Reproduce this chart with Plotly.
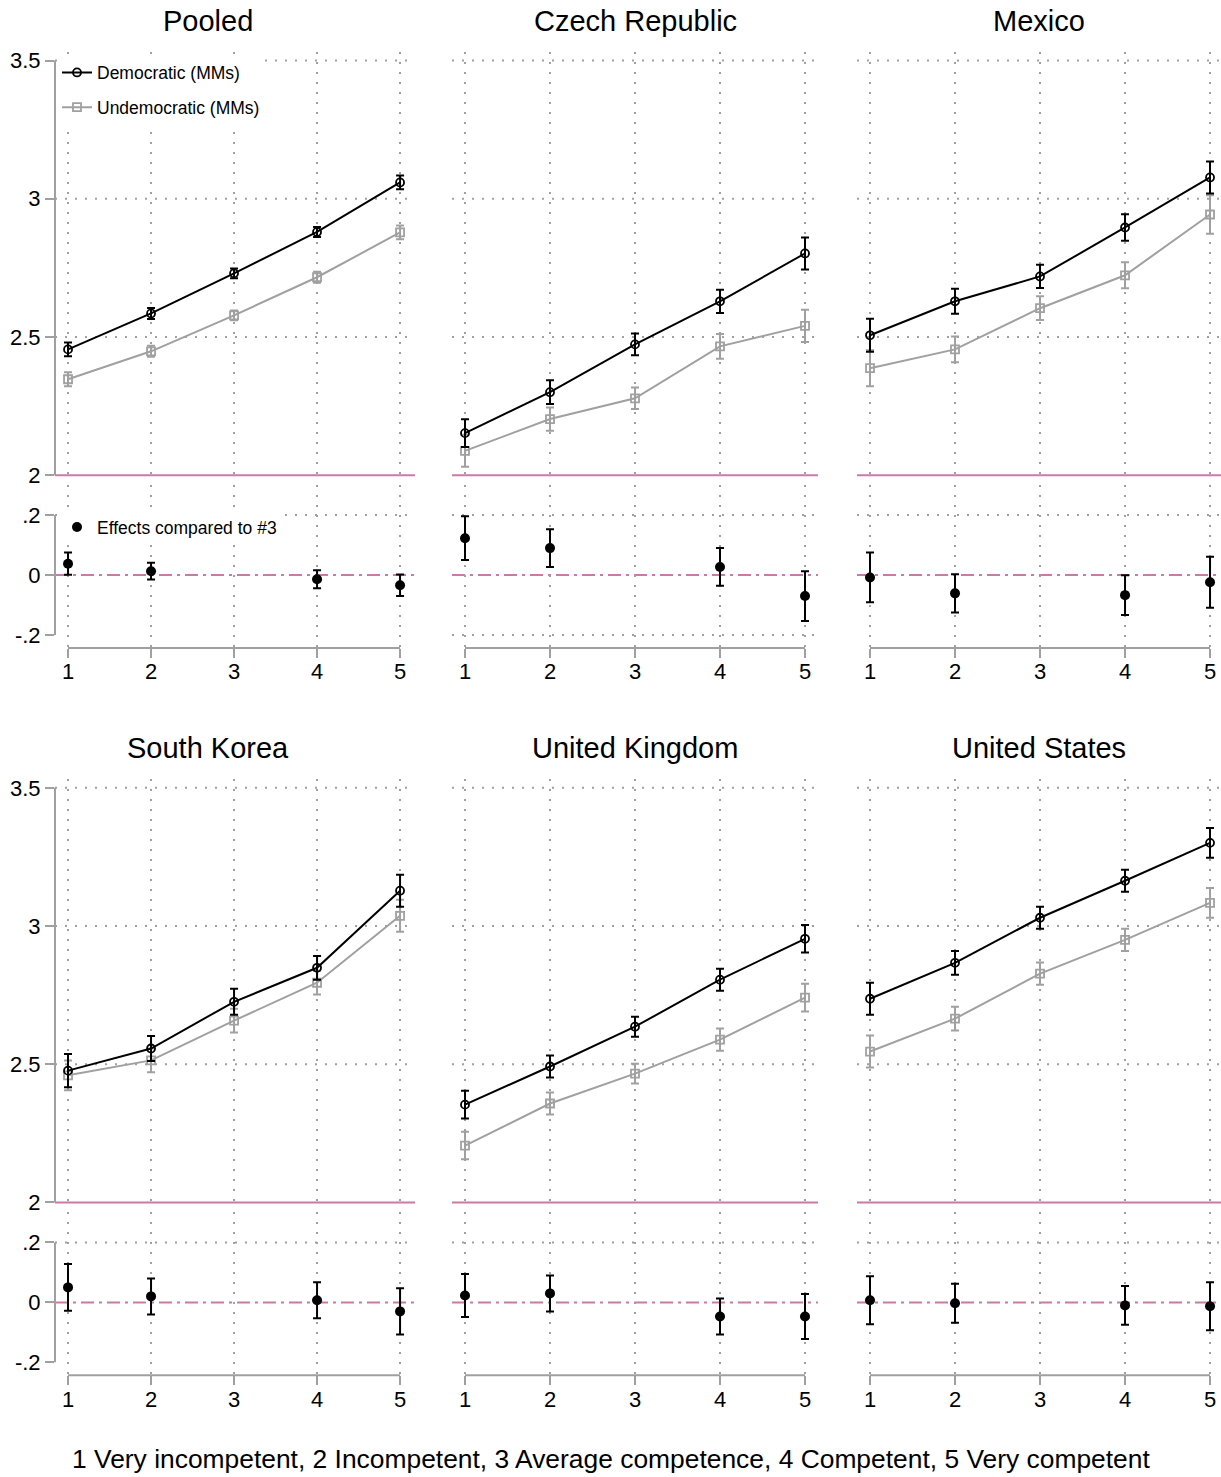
import plotly.graph_objects as go

# ---------------- data ----------------
levels = [1, 2, 3, 4, 5]
effect_levels = [1, 2, 4, 5]
level_labels = ["1", "2", "3", "4", "5"]
panel_titles = ["Pooled", "Czech Republic", "Mexico", "South Korea", "United Kingdom", "United States"]

top_ticks = [2, 2.5, 3, 3.5]
top_tick_text = ["2", "2.5", "3", "3.5"]
bottom_ticks = [-0.2, 0, 0.2]
bottom_tick_text = ["-.2", "0", ".2"]

pooled_dem = [2.455, 2.585, 2.730, 2.880, 3.059]
pooled_dem_err = [0.025, 0.020, 0.018, 0.018, 0.025]
pooled_undem = [2.347, 2.448, 2.578, 2.716, 2.878]
pooled_undem_err = [0.025, 0.020, 0.018, 0.020, 0.025]
pooled_eff = [0.038, 0.013, -0.014, -0.034]
pooled_eff_err = [0.037, 0.028, 0.030, 0.036]

czech_dem = [2.152, 2.300, 2.473, 2.629, 2.802]
czech_dem_err = [0.050, 0.043, 0.039, 0.042, 0.058]
czech_undem = [2.088, 2.203, 2.278, 2.466, 2.540]
czech_undem_err = [0.058, 0.042, 0.039, 0.045, 0.058]
czech_eff = [0.123, 0.090, 0.027, -0.070]
czech_eff_err = [0.073, 0.063, 0.063, 0.083]

mexico_dem = [2.506, 2.629, 2.719, 2.896, 3.077]
mexico_dem_err = [0.060, 0.045, 0.042, 0.048, 0.058]
mexico_undem = [2.387, 2.455, 2.604, 2.723, 2.943]
mexico_undem_err = [0.065, 0.047, 0.043, 0.047, 0.070]
mexico_eff = [-0.008, -0.061, -0.067, -0.024]
mexico_eff_err = [0.083, 0.064, 0.066, 0.085]

korea_dem = [2.477, 2.557, 2.726, 2.849, 3.128]
korea_dem_err = [0.060, 0.045, 0.047, 0.043, 0.058]
korea_undem = [2.460, 2.514, 2.658, 2.795, 3.037]
korea_undem_err = [0.054, 0.043, 0.043, 0.043, 0.058]
korea_eff = [0.050, 0.020, 0.007, -0.030]
korea_eff_err = [0.078, 0.060, 0.060, 0.077]

uk_dem = [2.354, 2.492, 2.636, 2.806, 2.954]
uk_dem_err = [0.050, 0.040, 0.036, 0.040, 0.050]
uk_undem = [2.206, 2.358, 2.466, 2.589, 2.741]
uk_undem_err = [0.050, 0.040, 0.036, 0.040, 0.050]
uk_eff = [0.023, 0.030, -0.047, -0.047]
uk_eff_err = [0.072, 0.060, 0.060, 0.075]

us_dem = [2.737, 2.867, 3.030, 3.164, 3.301]
us_dem_err = [0.058, 0.043, 0.040, 0.040, 0.054]
us_undem = [2.546, 2.665, 2.828, 2.950, 3.084]
us_undem_err = [0.058, 0.043, 0.040, 0.040, 0.054]
us_eff = [0.007, -0.003, -0.010, -0.013]
us_eff_err = [0.080, 0.065, 0.065, 0.080]

panels = [
    (pooled_dem, pooled_dem_err, pooled_undem, pooled_undem_err, pooled_eff, pooled_eff_err),
    (czech_dem, czech_dem_err, czech_undem, czech_undem_err, czech_eff, czech_eff_err),
    (mexico_dem, mexico_dem_err, mexico_undem, mexico_undem_err, mexico_eff, mexico_eff_err),
    (korea_dem, korea_dem_err, korea_undem, korea_undem_err, korea_eff, korea_eff_err),
    (uk_dem, uk_dem_err, uk_undem, uk_undem_err, uk_eff, uk_eff_err),
    (us_dem, us_dem_err, us_undem, us_undem_err, us_eff, us_eff_err),
]
# horizontal dotted grid values per panel
top_grid = [2.5, 3, 3.5]
bottom_grid = [[0.2], [0.2, -0.2], [0.2], [0.2], [0.2], [0.2]]

# ---------------- style / layout ----------------
W, H = 1221, 1477
FONT = "Liberation Sans, Arial, Helvetica, sans-serif"
BLACK = "#000000"
GREY = "#a0a0a0"
AXIS = "#a0a0a0"
PINK = "#cc79a7"
GRID_DASH = "2px,8px"

col_px = [(55, 415), (452, 818), (857, 1221)]
col_range = [(0.843, 5.18), (0.847, 5.153), (0.847, 5.129)]
row_off = [0, 728]
top_range = [1.9855, 3.5325]
bot_range = [-0.2433, 0.3]

fig = go.Figure()
shapes = []
annotations = []
layout_axes = {}


def py(p):
    # vertical pixel (from top) -> paper fraction, with a small correction for page rendering
    q = (p - 2.4) / 0.9928
    return 1 - q / H


def suffix(n):
    return "" if n == 1 else str(n)


for i, (dem, dem_err, und, und_err, eff, eff_err) in enumerate(panels):
    r, c = divmod(i, 3)
    off = row_off[r]
    xd = [col_px[c][0] / W, col_px[c][1] / W]
    ta = 2 * i + 1
    ba = 2 * i + 2
    tx, ty = "x" + suffix(ta), "y" + suffix(ta)
    bx, by = "x" + suffix(ba), "y" + suffix(ba)
    left = (c == 0)

    common_x = dict(domain=xd, range=list(col_range[c]), tickvals=levels, ticktext=level_labels,
                    showgrid=True, gridcolor=GREY, griddash=GRID_DASH, gridwidth=2,
                    zeroline=False, showline=False, fixedrange=True)
    layout_axes["xaxis" + suffix(ta)] = dict(common_x, anchor=ty, showticklabels=False, ticks="")
    layout_axes["xaxis" + suffix(ba)] = dict(common_x, anchor=by, showticklabels=True, ticks="outside",
                                             ticklen=9, tickwidth=2, tickcolor=AXIS, ticklabelstandoff=-5,
                                             tickfont=dict(size=22, color="#000", family=FONT))
    layout_axes["yaxis" + suffix(ta)] = dict(domain=[py(479 + off), py(51 + off)], range=top_range, anchor=tx,
                                             showgrid=False, zeroline=False, showline=False,
                                             tickvals=top_ticks, ticktext=top_tick_text,
                                             showticklabels=left, ticks="outside" if left else "",
                                             ticklen=9, tickwidth=2, tickcolor=AXIS,
                                             tickfont=dict(size=22, color="#000", family=FONT))
    layout_axes["yaxis" + suffix(ba)] = dict(domain=[py(648 + off), py(485 + off)], range=bot_range, anchor=bx,
                                             showgrid=False, zeroline=False, showline=False,
                                             tickvals=bottom_ticks, ticktext=bottom_tick_text,
                                             showticklabels=left, ticks="outside" if left else "",
                                             ticklen=9, tickwidth=2, tickcolor=AXIS,
                                             tickfont=dict(size=22, color="#000", family=FONT))

    for g in top_grid:
        shapes.append(dict(type="line", xref=f"{tx} domain", yref=ty, x0=0, x1=1, y0=g, y1=g,
                           line=dict(color=GREY, width=2, dash=GRID_DASH), layer="below"))
    for g in bottom_grid[i]:
        shapes.append(dict(type="line", xref=f"{bx} domain", yref=by, x0=0, x1=1, y0=g, y1=g,
                           line=dict(color=GREY, width=2, dash=GRID_DASH), layer="below"))
    shapes.append(dict(type="line", xref=f"{tx} domain", yref=ty, x0=0, x1=1, y0=2, y1=2,
                       line=dict(color=PINK, width=2), layer="below"))
    shapes.append(dict(type="line", xref=f"{bx} domain", yref=by, x0=0, x1=1, y0=0, y1=0,
                       line=dict(color=PINK, width=2, dash="13px,5px,3px,5px"), layer="below"))
    shapes.append(dict(type="line", xref=bx, yref=f"{by} domain", x0=levels[0], x1=levels[-1], y0=0, y1=0,
                       line=dict(color=AXIS, width=2), layer="above"))
    if left:
        shapes.append(dict(type="line", xref=f"{tx} domain", yref=ty, x0=0, x1=0,
                           y0=top_ticks[0], y1=top_ticks[-1], line=dict(color=AXIS, width=2), layer="above"))
        shapes.append(dict(type="line", xref=f"{bx} domain", yref=by, x0=0, x1=0,
                           y0=bottom_ticks[0], y1=bottom_ticks[-1], line=dict(color=AXIS, width=2), layer="above"))

    show = (i == 0)
    fig.add_trace(go.Scatter(
        x=levels, y=und, mode="lines+markers", name="Undemocratic (MMs)",
        xaxis=tx, yaxis=ty, showlegend=show, legend="legend", legendgroup="undem", legendrank=2,
        line=dict(color=GREY, width=2),
        marker=dict(symbol="square-open", size=8, color=GREY, line=dict(width=1.8, color=GREY)),
        error_y=dict(type="data", array=und_err, color=GREY, thickness=2, width=4),
    ))
    fig.add_trace(go.Scatter(
        x=levels, y=dem, mode="lines+markers", name="Democratic (MMs)",
        xaxis=tx, yaxis=ty, showlegend=show, legend="legend", legendgroup="dem", legendrank=1,
        line=dict(color=BLACK, width=2),
        marker=dict(symbol="circle-open", size=8, color=BLACK, line=dict(width=1.8, color=BLACK)),
        error_y=dict(type="data", array=dem_err, color=BLACK, thickness=2, width=4),
    ))
    fig.add_trace(go.Scatter(
        x=effect_levels, y=eff, mode="markers", name="Effects compared to #3",
        xaxis=bx, yaxis=by, showlegend=show, legend="legend2",
        marker=dict(symbol="circle", size=10, color=BLACK),
        error_y=dict(type="data", array=eff_err, color=BLACK, thickness=2, width=4),
    ))

    title_x = (0 + 415) / 2 if left else (col_px[c][0] + col_px[c][1]) / 2
    annotations.append(dict(text=panel_titles[i], x=title_x / W, y=py(20 + off), xref="paper", yref="paper",
                            xanchor="center", yanchor="middle", showarrow=False,
                            font=dict(size=29, color="#000", family=FONT)))

annotations.append(dict(
    text="1 Very incompetent, 2 Incompetent, 3 Average competence, 4 Competent, 5 Very competent",
    x=611 / W, y=py(1460), xref="paper", yref="paper", xanchor="center", yanchor="middle",
    showarrow=False, font=dict(size=26.4, color="#000", family=FONT)))

fig.update_layout(
    width=W, height=H,
    margin=dict(l=0, r=0, t=0, b=0),
    paper_bgcolor="white", plot_bgcolor="white",
    font=dict(family=FONT, color="#000"),
    shapes=shapes, annotations=annotations,
    legend=dict(x=57 / W, y=py(54), xanchor="left", yanchor="top", bgcolor="white",
                font=dict(size=17.5, family=FONT, color="#000"), tracegroupgap=9,
                itemwidth=30, traceorder="grouped"),
    legend2=dict(x=57 / W, y=py(509), xanchor="left", yanchor="top", bgcolor="white",
                 font=dict(size=17.5, family=FONT, color="#000"), itemwidth=30),
    showlegend=True,
    **layout_axes,
)

page_fix = (
    "document.documentElement.style.margin='0';"
    "document.documentElement.style.overflow='hidden';"
    "document.body.style.margin='0';"
    "document.body.style.overflow='hidden';"
    "document.body.style.height='1477px';"
    "document.querySelectorAll('.plot-container, .svg-container').forEach(function(e){"
    "e.style.verticalAlign='top';e.style.display='block';});"
)

fig.write_html("out.html", config={"displayModeBar": False}, post_script=page_fix)
